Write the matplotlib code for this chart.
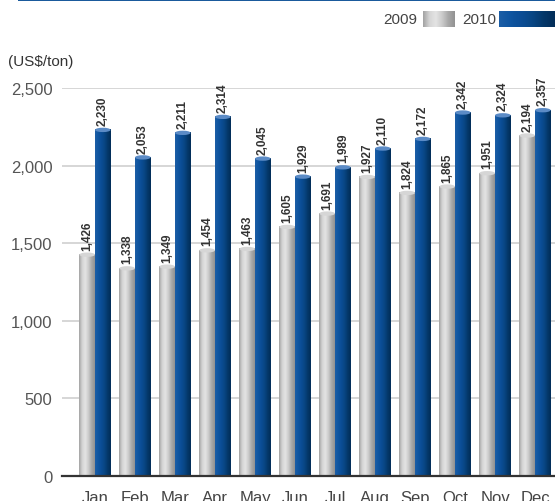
import numpy as np
import matplotlib
matplotlib.use('Agg')
import matplotlib.pyplot as plt
from matplotlib.patches import Ellipse, Rectangle
from matplotlib.colors import LinearSegmentedColormap

months = ['Jan', 'Feb', 'Mar', 'Apr', 'May', 'Jun',
          'Jul', 'Aug', 'Sep', 'Oct', 'Nov', 'Dec']
price_2009 = [1426, 1338, 1349, 1454, 1463, 1605, 1691, 1927, 1824, 1865, 1951, 2194]
price_2010 = [2230, 2053, 2211, 2314, 2045, 1929, 1989, 2110, 2172, 2342, 2324, 2357]
yticks = [0, 500, 1000, 1500, 2000, 2500]

plt.rcParams['font.family'] = ['Liberation Sans', 'DejaVu Sans']

gray_cmap = LinearSegmentedColormap.from_list(
    'cyl_gray', ['#a3a3a3', '#d5d5d5', '#e4e4e4', '#cbcbcb', '#a8a8a8', '#929292'])
blue_cmap = LinearSegmentedColormap.from_list(
    'cyl_blue', ['#1c5ea6', '#0f55a0', '#0b4d95', '#084684', '#04386a', '#022d58'])
grad = np.linspace(0, 1, 64).reshape(1, -1)

fig = plt.figure(figsize=(5.55, 5.02), dpi=100)
ax = fig.add_axes([62 / 555, 25 / 502, 493 / 555, 388 / 502])

x = np.arange(len(months))
w = 0.39
cap = 28  # height of the top ellipse, in data units


def cylinder(xc, h, cmap, cap_color):
    ax.imshow(grad, cmap=cmap, extent=[xc - w / 2, xc + w / 2, 0, h],
              aspect='auto', zorder=3, interpolation='bilinear')
    ax.add_patch(Ellipse((xc, h), w, cap, facecolor=cap_color,
                         edgecolor='none', zorder=4))


for i in x:
    cylinder(i - w / 2, price_2009[i], gray_cmap, '#d6d6d6')
    cylinder(i + w / 2, price_2010[i], blue_cmap, '#5b8bc6')
    ax.annotate(f'{price_2009[i]:,}', (i - w / 2, price_2009[i]),
                xytext=(0, 3.5), textcoords='offset points', rotation=90,
                ha='center', va='bottom', fontsize=8.5, fontweight='bold',
                color='#333333')
    ax.annotate(f'{price_2010[i]:,}', (i + w / 2, price_2010[i]),
                xytext=(0, 3.5), textcoords='offset points', rotation=90,
                ha='center', va='bottom', fontsize=8.5, fontweight='bold',
                color='#333333')

ax.set_xlim(-0.825, 11.5)
ax.set_ylim(0, 2500)
ax.set_yticks(yticks)
ax.set_yticklabels([f'{v:,}' for v in yticks], fontsize=12, color='#555555')
ax.set_xticks(x)
ax.set_xticklabels(months, fontsize=12, color='#444444')
ax.tick_params(length=0, axis='y', pad=7)
ax.tick_params(length=0, axis='x', pad=10)
ax.grid(axis='y', color='#cfcfcf', linewidth=1.2, zorder=0)
for s in ['top', 'right', 'left']:
    ax.spines[s].set_visible(False)
ax.spines['bottom'].set_color('#333333')
ax.spines['bottom'].set_linewidth(1.6)
ax.spines['bottom'].set_zorder(5)

fig.text(8 / 555, 1 - 62 / 502, '(US$/ton)', fontsize=11, color='#333333',
         va='center', ha='left')

# rule across the top
fig.add_artist(Rectangle((18 / 555, 1 - 2 / 502), 1, 2 / 502,
                         transform=fig.transFigure, facecolor='#1a5a9c',
                         edgecolor='none'))

# legend swatches
fig.text(417 / 555, 1 - 20 / 502, '2009', fontsize=11, color='#444444',
         ha='right', va='center')
fig.text(462 / 555, 1 - 20 / 502, '2010', fontsize=11, color='#444444',
         ha='left', va='center')
for x0, x1, cmap in [(423, 455, gray_cmap), (499, 555, blue_cmap)]:
    lax = fig.add_axes([x0 / 555, 1 - 28 / 502, (x1 - x0) / 555, 16 / 502])
    lax.imshow(grad, cmap=cmap, aspect='auto', interpolation='bilinear')
    lax.axis('off')

fig.savefig('out.png', dpi=100)
